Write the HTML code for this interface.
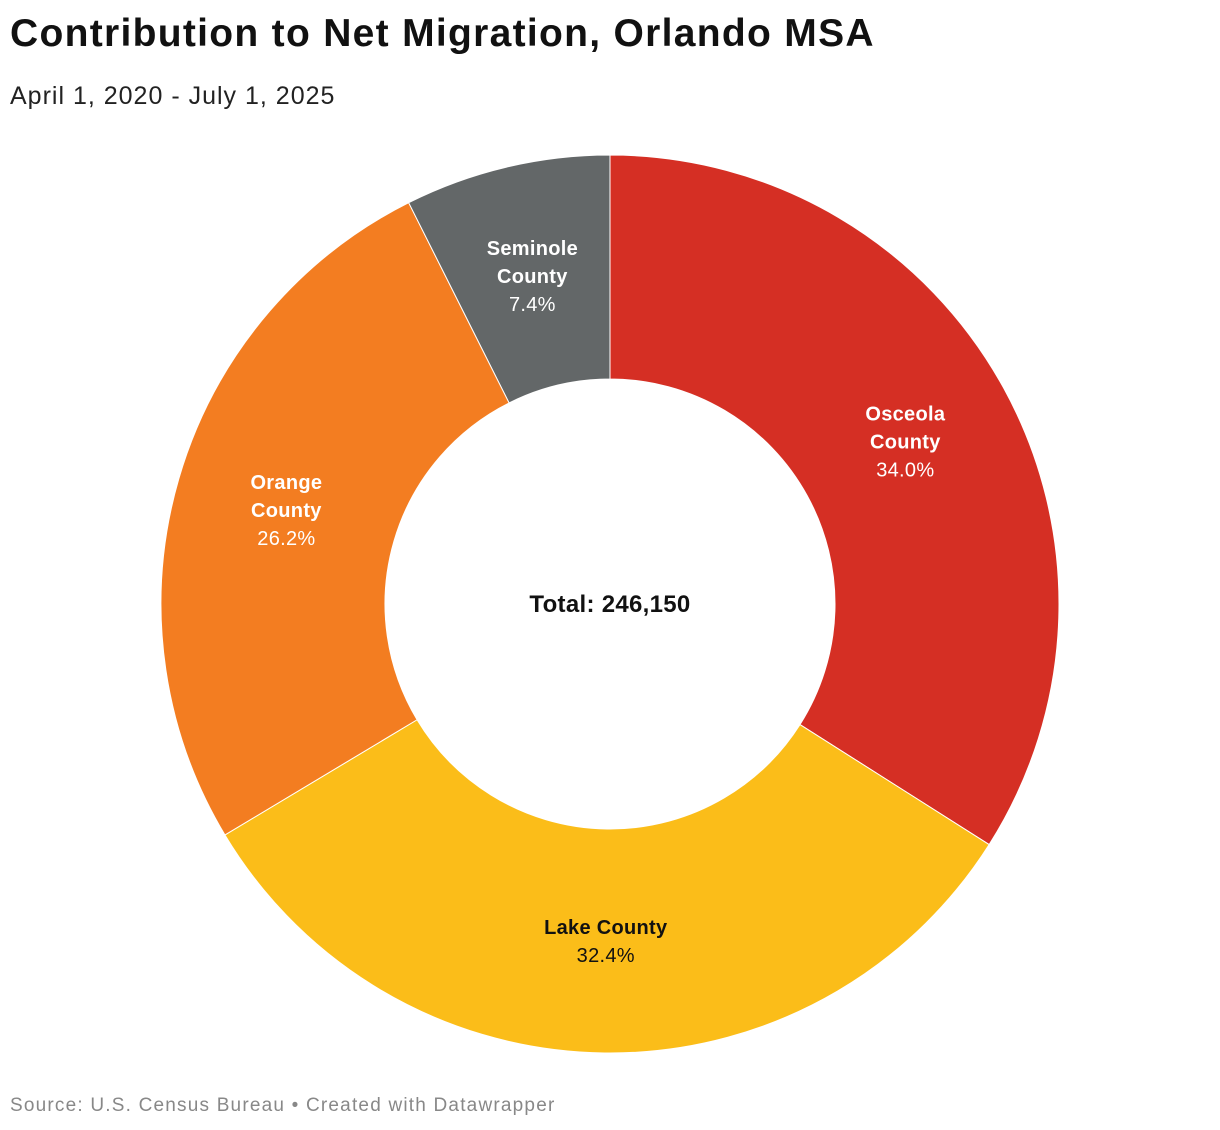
<!DOCTYPE html>
<html><head><meta charset="utf-8"><style>
body{margin:0;background:#fff;font-family:"Liberation Sans",sans-serif;}
#wrap{position:relative;width:1220px;height:1130px;overflow:hidden}
h1{position:absolute;left:10px;top:12px;margin:0;font-size:39px;font-weight:bold;color:#111;letter-spacing:1.3px}
.sub{position:absolute;left:10px;top:82px;font-size:25px;color:#222;letter-spacing:1.0px}
.src{position:absolute;left:10px;top:1095px;font-size:19px;color:#888;letter-spacing:1.2px}
</style></head><body><div id="wrap">
<h1>Contribution to Net Migration, Orlando MSA</h1>
<div class="sub">April 1, 2020 - July 1, 2025</div>
<svg id="svg" width="1220" height="1130" style="position:absolute;left:0;top:0"></svg>
<div class="src">Source: U.S. Census Bureau • Created with Datawrapper</div>
</div>
<script>
const categories=["Osceola County","Lake County","Orange County","Seminole County"];
const labelLines=[["Osceola","County"],["Lake County"],["Orange","County"],["Seminole","County"]];
const values=[34.0,32.4,26.2,7.4];
const colors=["#d52f24","#fbbd19","#f37d21","#636768"];
const textColors=["#fff","#111","#fff","#fff"];
const totalLabel="Total: 246,150";
const cx=610,cy=604,R=449,r=225,NS="http://www.w3.org/2000/svg";
const svg=document.getElementById('svg');
const sum=values.reduce((a,b)=>a+b,0);
function pt(a,rad){return [cx+rad*Math.sin(a),cy-rad*Math.cos(a)];}
let a0=0;
values.forEach((v,i)=>{
 const a1=a0+v/sum*2*Math.PI;const lg=(a1-a0)>Math.PI?1:0;
 const [x1,y1]=pt(a0,R),[x2,y2]=pt(a1,R),[x3,y3]=pt(a1,r),[x4,y4]=pt(a0,r);
 const p=document.createElementNS(NS,'path');
 p.setAttribute('d',`M${x1},${y1}A${R},${R} 0 ${lg} 1 ${x2},${y2}L${x3},${y3}A${r},${r} 0 ${lg} 0 ${x4},${y4}Z`);
 p.setAttribute('fill',colors[i]);p.setAttribute('stroke','#fff');p.setAttribute('stroke-width','1');
 
 
 svg.appendChild(p);
 const am=(a0+a1)/2;const [lx,ly]=pt(am,(R+r)/2);
 const lines=labelLines[i].concat([v.toFixed(1)+'%']);
 const n=lines.length;
 lines.forEach((t,j)=>{
  const tx=document.createElementNS(NS,'text');
  tx.setAttribute('x',lx);tx.setAttribute('y',ly+(j-(n-1)/2)*28+7);
  tx.setAttribute('text-anchor','middle');tx.setAttribute('font-size','20');
  tx.setAttribute('font-family','Liberation Sans, sans-serif');
  tx.setAttribute('letter-spacing','0.3');
  if(j<n-1)tx.setAttribute('font-weight','bold');
  tx.setAttribute('fill',textColors[i]);tx.textContent=t;
  
  
  svg.appendChild(tx);
 });
 a0=a1;
});
const tt=document.createElementNS(NS,'text');
tt.setAttribute('x',cx);tt.setAttribute('y',cy+8);tt.setAttribute('text-anchor','middle');
tt.setAttribute('font-size','24');tt.setAttribute('font-weight','bold');tt.setAttribute('fill','#111');
tt.setAttribute('letter-spacing','0.3');
tt.setAttribute('font-family','Liberation Sans, sans-serif');tt.textContent=totalLabel;


svg.appendChild(tt);
</script></body></html>
